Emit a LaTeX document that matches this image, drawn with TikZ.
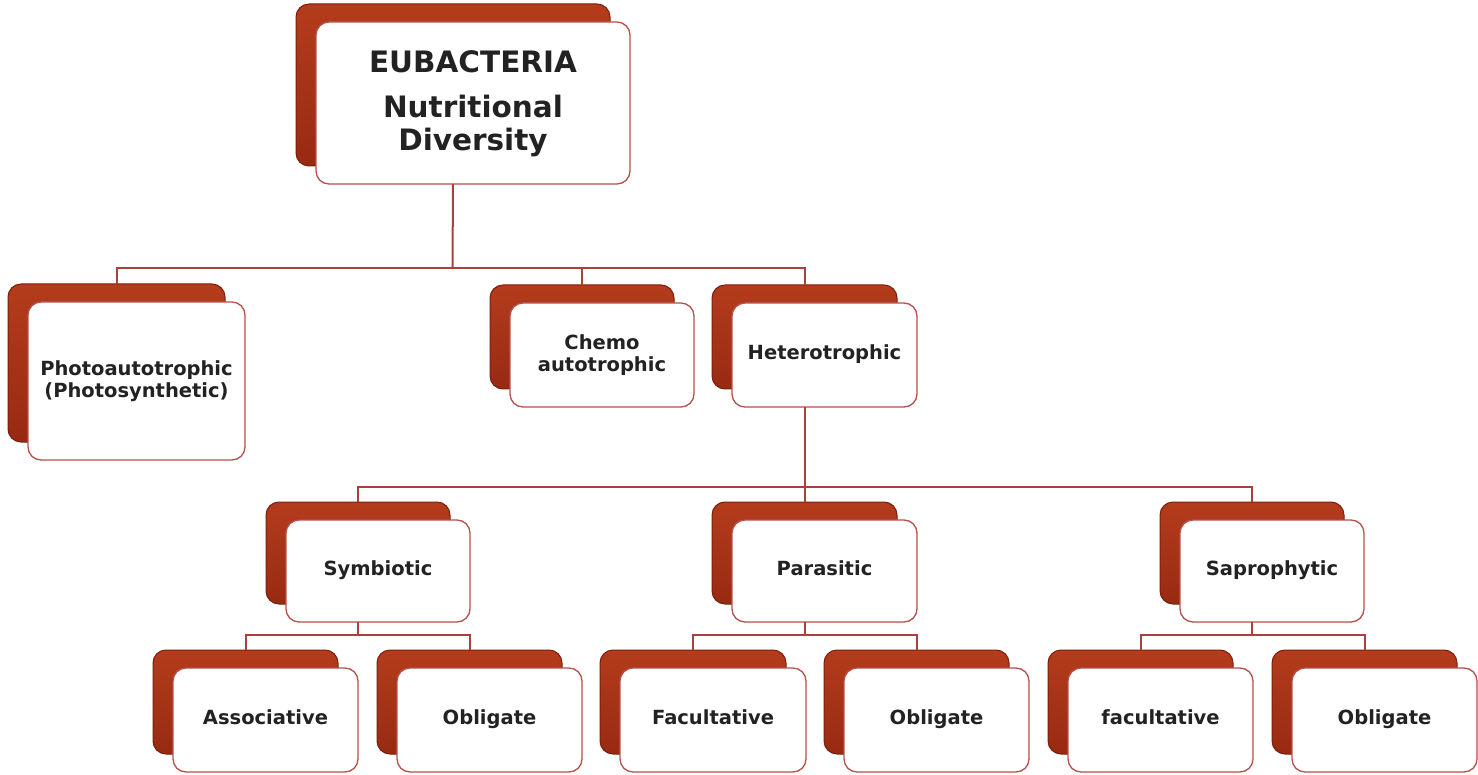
\documentclass[tikz,border=0pt]{standalone}
\usepackage{fontspec}
\setmainfont{DejaVu Sans}
\definecolor{bkhi}{HTML}{B43C1C}
\definecolor{bklo}{HTML}{982A12}
\definecolor{bkdark}{HTML}{7A1E0C}
\definecolor{frame}{HTML}{B5504A}
\definecolor{conn}{HTML}{A8403C}
\definecolor{txt}{HTML}{222222}
\tikzset{
  backbox/.style={rounded corners=13pt, draw=bkdark, line width=1pt,
    top color=bkhi, bottom color=bklo, inner sep=0pt, outer sep=0pt},
  frontbox/.style={rounded corners=13pt, draw=frame, line width=1.3pt, fill=white,
    inner sep=0pt, outer sep=0pt, align=center, text=txt,
    font=\fontsize{19.5}{21.5}\selectfont\bfseries},
  titlefont/.style={font=\fontsize{29.5}{33}\selectfont\bfseries},
  connline/.style={draw=conn, line width=2pt},
}
\newcommand\mybox[7][]{%
  \node[backbox, minimum width=#5pt, minimum height=#6pt] (#2b) at ({#3-20},{#4-18}) {};
  \node[frontbox, #1, minimum width=#5pt, minimum height=#6pt] (#2) at (#3,#4) {\strut #7};
}
\begin{document}
\begin{tikzpicture}[x=1pt,y=-1pt]
\useasboundingbox (0,0) rectangle (1478,775);
\coordinate (bus1) at (452.5,268);
\coordinate (bus2) at (804.5,487);
\coordinate (bus3) at (358,635);
\coordinate (bus4) at (804.5,635);
\coordinate (bus5) at (1252,635);
% boxes
\mybox[titlefont]{root}{473}{103}{314}{162}{EUBACTERIA\\[12pt]Nutritional\\Diversity}
\mybox{photo}{136.5}{381}{217}{158}{Photoautotrophic\\(Photosynthetic)}
\mybox{chemo}{602}{355}{184}{104}{Chemo\\autotrophic}
\mybox{hetero}{824.5}{355}{185}{104}{Heterotrophic}
\mybox{symb}{378}{571}{184}{102}{Symbiotic}
\mybox{para}{824.5}{571}{185}{102}{Parasitic}
\mybox{sapro}{1272}{571}{184}{102}{Saprophytic}
\mybox{assoc}{265.5}{720}{185}{104}{Associative}
\mybox{oblA}{489.5}{720}{185}{104}{Obligate}
\mybox{facA}{713}{720}{186}{104}{Facultative}
\mybox{oblB}{936.5}{720}{185}{104}{Obligate}
\mybox{facB}{1160.5}{720}{185}{104}{facultative}
\mybox{oblC}{1384.5}{720}{185}{104}{Obligate}
% connectors
\draw[connline] (root.south -| rootb.center) -- (bus1);
\draw[connline] (bus1) -| (photob.north);
\draw[connline] (bus1) -| (chemob.north);
\draw[connline] (bus1) -| (heterob.north);
\draw[connline] (hetero.south -| heterob.center) -- (bus2);
\draw[connline] (bus2) -| (symbb.north);
\draw[connline] (bus2) -- (parab.north);
\draw[connline] (bus2) -| (saprob.north);
\draw[connline] (symb.south -| symbb.center) -- (bus3);
\draw[connline] (bus3) -| (assocb.north);
\draw[connline] (bus3) -| (oblAb.north);
\draw[connline] (para.south -| parab.center) -- (bus4);
\draw[connline] (bus4) -| (facAb.north);
\draw[connline] (bus4) -| (oblBb.north);
\draw[connline] (sapro.south -| saprob.center) -- (bus5);
\draw[connline] (bus5) -| (facBb.north);
\draw[connline] (bus5) -| (oblCb.north);
\end{tikzpicture}
\end{document}
